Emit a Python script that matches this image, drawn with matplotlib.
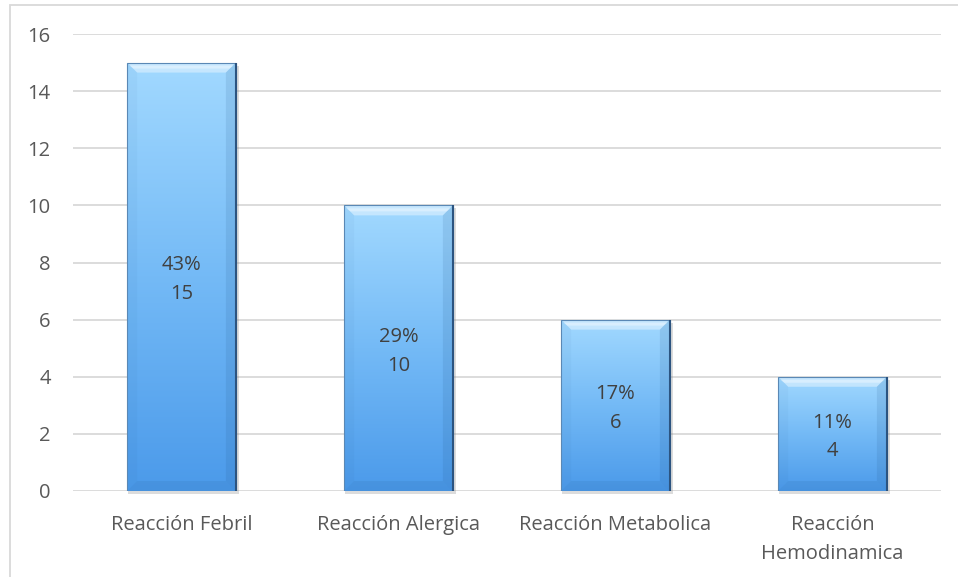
import numpy as np
import matplotlib
matplotlib.use("Agg")
import matplotlib.pyplot as plt
from matplotlib.patches import Rectangle, Polygon
from matplotlib.colors import LinearSegmentedColormap

categories = ["Reacción Febril", "Reacción Alergica", "Reacción Metabolica", "Reacción\nHemodinamica"]
counts = [15, 10, 6, 4]
percents = ["43%", "29%", "17%", "11%"]
y_ticks = [0, 2, 4, 6, 8, 10, 12, 14, 16]

plt.rcParams["font.family"] = ["Open Sans", "DejaVu Sans"]
text_color = "#595959"
fs = 14.5

fig = plt.figure(figsize=(9.58, 5.77), dpi=100)
ax = fig.add_axes([73 / 958, 1 - 491 / 577, (941 - 73) / 958, (491 - 34) / 577])

ax.set_xlim(-0.5, len(categories) - 0.5)
ax.set_ylim(0, 16)
ax.set_yticks(y_ticks)
ax.set_xticks(range(len(categories)))
ax.set_xticklabels(categories, color=text_color, fontsize=fs, linespacing=1.65)
ax.set_yticklabels([str(t) for t in y_ticks], color=text_color, fontsize=fs)
ax.tick_params(axis="both", length=0)
ax.tick_params(axis="y", pad=16)
ax.tick_params(axis="x", pad=17)
for s in ax.spines.values():
    s.set_visible(False)
ax.yaxis.grid(True, color="#d9d9d9", linewidth=1.3)
ax.set_axisbelow(True)

# frame around the whole chart area
fig.patches.append(Rectangle((10 / 958, -0.1), 2.0, 1 - 5 / 577 + 0.1, transform=fig.transFigure,
                             fill=False, edgecolor="#d9d9d9", linewidth=1.3))

cmap = LinearSegmentedColormap.from_list("bar", ["#4b9aea", "#74baf6", "#a2d9ff"])
grad = np.linspace(0, 1, 256).reshape(-1, 1)

width = 0.5
px_x = width / 110.0
px_y = 16 / 457.0
for i, (v, p) in enumerate(zip(counts, percents)):
    x0, x1 = i - width / 2, i + width / 2
    # soft shadow
    ax.add_patch(Rectangle((x0 + 1 * px_x, -3 * px_y), width + 2 * px_x, v, facecolor="#8c8c8c",
                           alpha=0.3, edgecolor="none", zorder=2, clip_on=False))
    im = ax.imshow(grad, extent=[x0, x1, 0, v], origin="lower", cmap=cmap,
                   aspect="auto", zorder=3, interpolation="bicubic")
    rect = Rectangle((x0, 0), width, v, facecolor="none", edgecolor="#5a88b5",
                     linewidth=0.8, zorder=5)
    ax.add_patch(rect)
    im.set_clip_path(rect)
    dx, dy = 10 * px_x, 10 * px_y
    # bevel facets
    ax.add_patch(Polygon([(x0, v), (x1, v), (x1 - dx, v - dy), (x0 + dx, v - dy)],
                         closed=True, facecolor="white", alpha=0.4, edgecolor="none", zorder=4))
    ax.add_patch(Polygon([(x0 + 2 * px_x, v - 3 * px_y), (x1 - 2 * px_x, v - 3 * px_y),
                          (x1 - 6 * px_x, v - 6 * px_y), (x0 + 6 * px_x, v - 6 * px_y)],
                         closed=True, facecolor="white", alpha=0.35, edgecolor="none", zorder=4))
    ax.add_patch(Polygon([(x1, v), (x1, 0), (x1 - dx, dy), (x1 - dx, v - dy)],
                         closed=True, facecolor="#1d4f82", alpha=0.12, edgecolor="none", zorder=4))
    ax.add_patch(Polygon([(x0, 0), (x1, 0), (x1 - dx, dy), (x0 + dx, dy)],
                         closed=True, facecolor="#1d4f82", alpha=0.10, edgecolor="none", zorder=4))
    ax.add_patch(Polygon([(x0, v), (x0, 0), (x0 + dx, dy), (x0 + dx, v - dy)],
                         closed=True, facecolor="#1d4f82", alpha=0.04, edgecolor="none", zorder=4))
    ax.plot([x1, x1], [0, v], color="#2c5480", linewidth=1.5, zorder=6, solid_capstyle="butt")
    ax.annotate(f"{p}\n{v}", xy=(i, v / 2), xytext=(0, -3), textcoords="offset pixels",
                ha="center", va="center", color="#404040",
                fontsize=fs, linespacing=1.58, zorder=7)

fig.savefig("out.png", dpi=100)
